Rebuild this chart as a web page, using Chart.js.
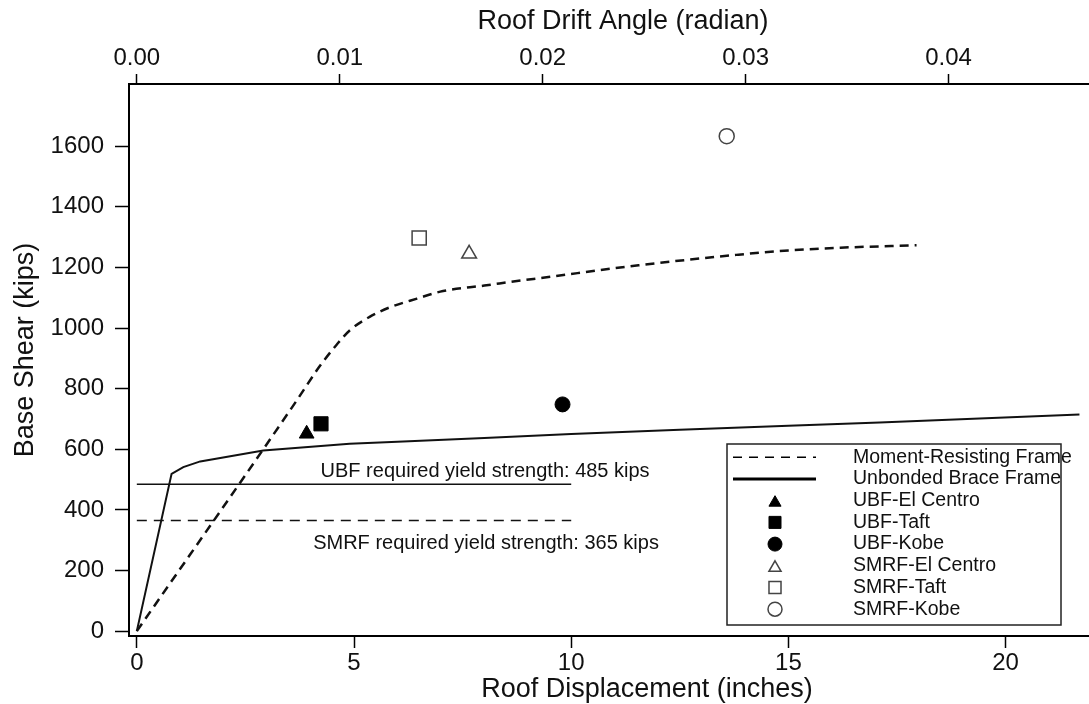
<!DOCTYPE html>
<html>
<head>
<meta charset="utf-8">
<script src="https://cdn.jsdelivr.net/npm/chart.js@4.4.1/dist/chart.umd.min.js"></script>
<style>
  html, body { margin: 0; padding: 0; background: #fff; }
  canvas { display: block; }
</style>
</head>
<body>
<canvas id="chart" width="1089" height="704"></canvas>
<script>
// pushover curves: roof displacement (in) vs base shear (kips)
const mrfDisp = [0, 3.7, 4.2, 4.6, 4.9, 5.35, 5.8, 6.45, 7.05, 8.0, 8.75, 9.35, 11.55, 13.85, 15.0, 16.2, 17.95];
const mrfShear = [0, 765, 872, 945, 992, 1036, 1067, 1097, 1122, 1140, 1155, 1166, 1207, 1242, 1256, 1265, 1273];
const ubfDisp = [0, 0.8, 1.07, 1.46, 2.91, 4.9, 6.0, 8.0, 10.0, 12.5, 15.0, 17.1, 21.7];
const ubfShear = [0, 519, 541, 560, 596, 618, 625, 637, 650, 664, 678, 688, 715];

// peak responses from the time history runs
const eqLabels = ['UBF-El Centro', 'UBF-Taft', 'UBF-Kobe', 'SMRF-El Centro', 'SMRF-Taft', 'SMRF-Kobe'];
const eqDisp = [3.91, 4.24, 9.8, 7.65, 6.5, 13.58];
const eqShear = [651, 684, 748, 1245, 1297, 1633];
const eqStyles = ['triangle', 'rect', 'circle', 'triangle', 'rect', 'circle'];

// required yield strengths
const yieldLabels = ['UBF', 'SMRF'];
const yieldLevels = [485, 365];
const yieldSpan = [0, 10];

// axes
const dispTicks = [0, 5, 10, 15, 20];
const shearTicks = [0, 200, 400, 600, 800, 1000, 1200, 1400, 1600];
const driftTicks = [0, 0.01, 0.02, 0.03, 0.04];
const ROOF_HEIGHT = 467.2; // inches, drift = disp / height
const X_MIN = -0.18, X_MAX = 21.92;
const Y_MIN = -16, Y_MAX = 1805;

const FONT = '"Liberation Sans", Arial, sans-serif';

function pts(xs, ys) {
    return xs.map((x, i) => ({ x: x, y: ys[i] }));
}

const datasets = [
    {
        label: 'Moment-Resisting Frame',
        data: pts(mrfDisp, mrfShear),
        showLine: true,
        borderColor: '#111',
        borderWidth: 2.5,
        borderDash: [9, 6],
        pointRadius: 0,
        cubicInterpolationMode: 'monotone'
    },
    {
        label: 'Unbonded Brace Frame',
        data: pts(ubfDisp, ubfShear),
        showLine: true,
        borderColor: '#111',
        borderWidth: 2,
        pointRadius: 0,
        tension: 0
    }
];

eqLabels.forEach((lab, i) => {
    const filled = i < 3;
    const radius = eqStyles[i] === 'rect' ? 10 : (eqStyles[i] === 'triangle' ? 8.5 : 7.5);
    datasets.push({
        label: lab,
        data: [{ x: eqDisp[i], y: eqShear[i] }],
        pointStyle: eqStyles[i],
        pointRadius: radius,
        backgroundColor: filled ? '#000' : '#fff',
        borderColor: filled ? '#000' : '#444',
        borderWidth: filled ? 1 : 1.5
    });
});

yieldLevels.forEach((lvl, i) => {
    datasets.push({
        label: yieldLabels[i] + ' required yield strength',
        data: yieldSpan.map(x => ({ x: x, y: lvl })),
        showLine: true,
        borderColor: '#111',
        borderWidth: 1.5,
        borderDash: i === 0 ? [] : [10, 7],
        pointRadius: 0
    });
});

const decorations = {
    id: 'decorations',
    afterDraw(chart) {
        const ctx = chart.ctx;
        const xs = chart.scales.x;
        const ys = chart.scales.y;
        ctx.save();
        ctx.fillStyle = '#111';

        // axis titles
        ctx.font = '27px ' + FONT;
        ctx.textAlign = 'center';
        ctx.textBaseline = 'alphabetic';
        ctx.fillText('Roof Drift Angle (radian)', 623, 29);
        ctx.fillText('Roof Displacement (inches)', 647, 697);
        ctx.save();
        ctx.translate(33, 350);
        ctx.rotate(-Math.PI / 2);
        ctx.fillText('Base Shear (kips)', 0, 0);
        ctx.restore();

        // yield strength notes
        ctx.font = '20px ' + FONT;
        ctx.textAlign = 'left';
        ctx.fillText('UBF required yield strength: ' + yieldLevels[0] + ' kips',
            xs.getPixelForValue(4.23), ys.getPixelForValue(yieldLevels[0]) - 7);
        ctx.fillText('SMRF required yield strength: ' + yieldLevels[1] + ' kips',
            xs.getPixelForValue(4.06), ys.getPixelForValue(yieldLevels[1]) + 28);

        // legend
        const bx = 727, by = 444, bw = 334, bh = 181;
        ctx.fillStyle = '#fff';
        ctx.fillRect(bx, by, bw, bh);
        ctx.strokeStyle = '#222';
        ctx.lineWidth = 1.5;
        ctx.strokeRect(bx, by, bw, bh);

        const rowY = i => 457.3 + i * 21.7;
        ctx.font = '19.5px ' + FONT;
        ctx.textBaseline = 'middle';
        for (let i = 0; i < 8; i++) {
            const ds = chart.data.datasets[i];
            const y = rowY(i);
            if (i < 2) {
                ctx.beginPath();
                ctx.strokeStyle = '#000';
                ctx.lineWidth = i === 0 ? 1.5 : 3;
                ctx.setLineDash(i === 0 ? [9, 7] : []);
                ctx.moveTo(733, y);
                ctx.lineTo(816, y);
                ctx.stroke();
                ctx.setLineDash([]);
            } else {
                const r = ds.pointStyle === 'rect' ? 8.5 : 7;
                ctx.fillStyle = ds.backgroundColor;
                ctx.strokeStyle = ds.borderColor;
                ctx.lineWidth = ds.borderWidth;
                Chart.helpers.drawPoint(ctx, { pointStyle: ds.pointStyle, radius: r, rotation: 0, borderWidth: ds.borderWidth }, 775, y + (ds.pointStyle === 'triangle' ? 2 : 0));
            }
            ctx.fillStyle = '#111';
            ctx.fillText(ds.label, 853, y);
        }
        ctx.restore();
    }
};

const tickFont = { family: FONT, size: 24 };

function noPad(s) {
    s.paddingLeft = 0;
    s.paddingRight = 0;
    s.paddingTop = 0;
    s.paddingBottom = 0;
}

new Chart(document.getElementById('chart'), {
    type: 'scatter',
    data: { datasets: datasets },
    options: {
        responsive: false,
        animation: false,
        devicePixelRatio: 1,
        layout: { padding: 0, autoPadding: false },
        plugins: {
            legend: { display: false },
            tooltip: { enabled: false }
        },
        scales: {
            x: {
                type: 'linear',
                position: 'bottom',
                min: X_MIN,
                max: X_MAX,
                afterBuildTicks: s => { s.ticks = dispTicks.map(v => ({ value: v })); },
                afterFit: s => { s.height = 68; noPad(s); },
                grid: { drawOnChartArea: false, tickLength: 12, tickWidth: 1.5, tickColor: '#000' },
                border: { display: true, color: '#000', width: 2 },
                ticks: { font: tickFont, color: '#111', padding: 1, maxRotation: 0, autoSkip: false, callback: v => String(v) }
            },
            x2: {
                type: 'linear',
                position: 'top',
                min: X_MIN / ROOF_HEIGHT,
                max: X_MAX / ROOF_HEIGHT,
                afterBuildTicks: s => { s.ticks = driftTicks.map(v => ({ value: v })); },
                afterFit: s => { s.height = 84; noPad(s); },
                grid: { drawOnChartArea: false, tickLength: 10, tickWidth: 1.5, tickColor: '#000' },
                border: { display: true, color: '#000', width: 2 },
                ticks: {
                    font: tickFont, color: '#111', padding: 1, maxRotation: 0, autoSkip: false,
                    callback: v => v.toFixed(2)
                }
            },
            y: {
                type: 'linear',
                position: 'left',
                min: Y_MIN,
                max: Y_MAX,
                afterBuildTicks: s => { s.ticks = shearTicks.map(v => ({ value: v })); },
                afterFit: s => { s.width = 129; noPad(s); },
                grid: { drawOnChartArea: false, tickLength: 14, tickWidth: 1.5, tickColor: '#000' },
                border: { display: true, color: '#000', width: 2 },
                ticks: { font: tickFont, color: '#111', padding: 11, autoSkip: false, callback: v => String(v) }
            }
        }
    },
    plugins: [decorations]
});
</script>
</body>
</html>
